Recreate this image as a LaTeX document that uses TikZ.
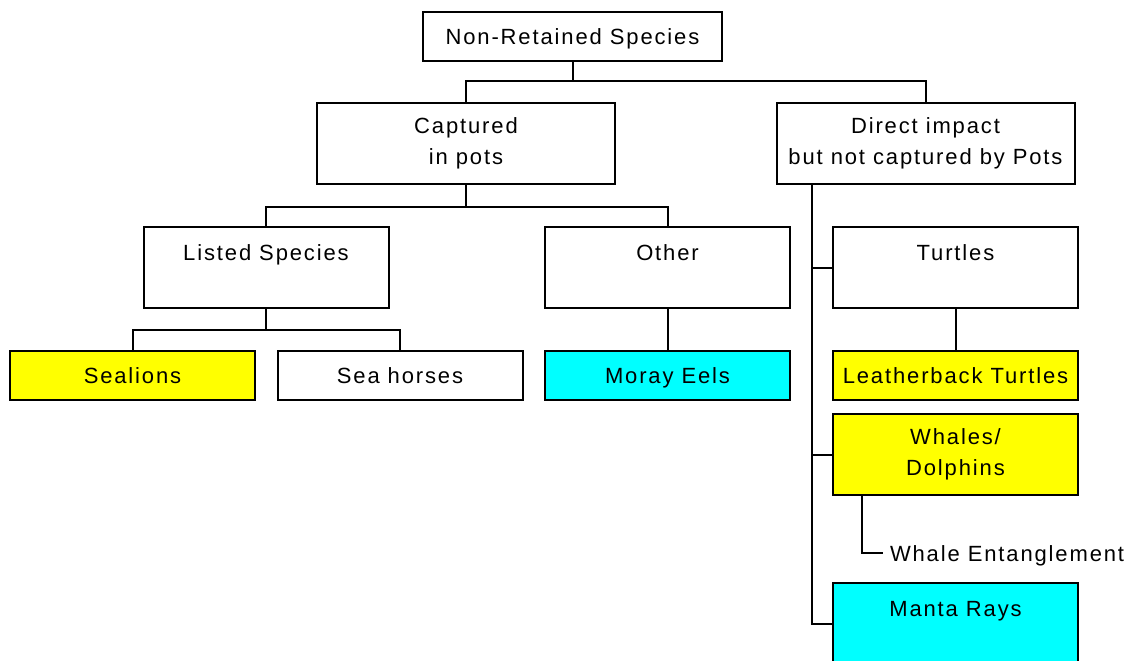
\documentclass[tikz,border=0pt]{standalone}
\usepackage{fontspec}
\setmainfont[LetterSpace=8.5]{Liberation Sans}
\definecolor{lemon}{RGB}{255,255,0}
\definecolor{aqua}{RGB}{0,255,255}
\begin{document}
\begin{tikzpicture}[x=.5pt,y=-.5pt,line width=1pt,font=\fontsize{11}{15.5}\selectfont,
  box/.style={draw,inner sep=0pt,minimum width=122.5pt},
  leaf/.style={box,minimum height=24.5pt,text height=8pt,text depth=0pt},
  topbox/.style={box,minimum height=40.5pt,text height=16.5pt,text depth=24pt},
  twoline/.style={box,align=center,minimum width=149pt,minimum height=40.5pt},
  yel/.style={fill=lemon},
  cyn/.style={fill=aqua}]
  \clip (0,0) rectangle (1137,660);
  % top levels
  \node[leaf,minimum width=149.5pt] (root) at (572.5,36.5) {Non-Retained Species};
  \node[twoline] (capt) at (466,143.5) {Captured\\in pots};
  \node[twoline] (direct) at (925.5,143.5) {Direct impact\\but not captured by Pots};
  % captured in pots
  \node[topbox] (listed) at (266,267.5) {Listed Species};
  \node[topbox] (other) at (667.5,267.5) {Other};
  \node[leaf,yel] (seal) at (132.5,375) {Sealions};
  \node[leaf] (horse) at (400,375) {Sea horses};
  \node[leaf,cyn] (moray) at (667.5,375) {Moray Eels};
  % direct impact
  \node[topbox] (turt) at (955.5,267.5) {Turtles};
  \node[leaf,yel] (leather) at (955.5,375) {Leatherback Turtles};
  \node[box,yel,align=center,minimum height=40.5pt] (whale) at (955.5,454.5) {Whales/\\Dolphins};
  \node[topbox,cyn] (manta) at (955.5,623.5) {Manta Rays};
  \node[anchor=west,inner sep=3pt,text height=8pt,text depth=0pt] (entangle) at (883,553) {Whale Entanglement};
  % connectors
  \draw (root.south) -- ++(0,19) -| (capt.north);
  \draw (root.south) ++(0,19) -| (direct.north);
  \draw (capt.south) -- ++(0,22) -| (listed.north);
  \draw (capt.south) ++(0,22) -| (other.north);
  \draw (listed.south) -- ++(0,21) -| (seal.north);
  \draw (listed.south) ++(0,21) -| (horse.north);
  \draw (other) -- (moray);
  \draw (turt) -- (leather);
  \coordinate (trunk) at ([xshift=18pt]direct.south west);
  \draw (trunk) |- (manta.west);
  \draw (turt.west -| trunk) -- (turt.west);
  \draw (whale.west -| trunk) -- (whale.west);
  \draw ([xshift=15pt]whale.south west) |- (entangle.west);
\end{tikzpicture}
\end{document}
